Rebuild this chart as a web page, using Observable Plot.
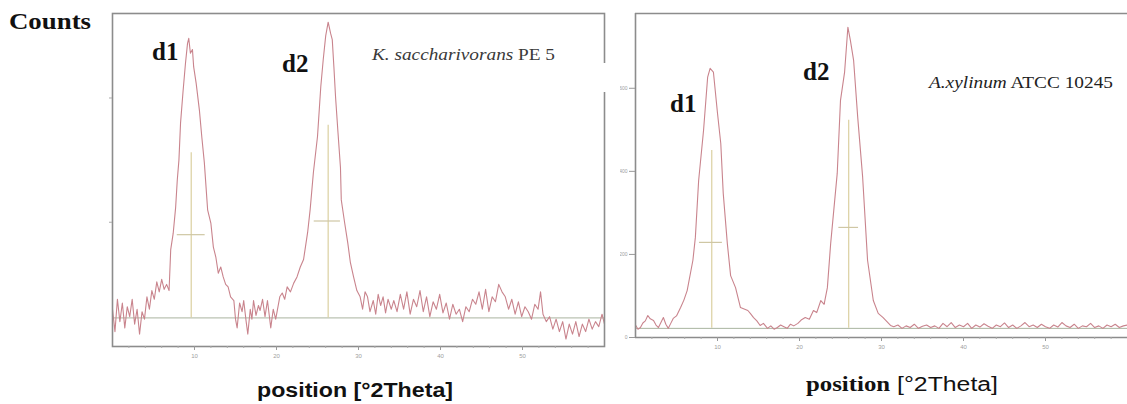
<!DOCTYPE html>
<html>
<head>
<meta charset="utf-8">
<script src="https://cdn.jsdelivr.net/npm/d3@7"></script>
<script src="https://cdn.jsdelivr.net/npm/@observablehq/plot@0.6"></script>
<style>
  html, body { margin: 0; padding: 0; background: #fff; }
  #wrap { position: relative; width: 1127px; height: 404px; overflow: hidden; }
  #left, #right, #overlay { position: absolute; top: 0; }
  #left { left: 0; }
  #right { left: 620px; }
  #overlay { left: 0; pointer-events: none; }
</style>
</head>
<body>
<div id="wrap">
  <div id="left"></div>
  <div id="right"></div>
  <svg id="overlay" width="1127" height="404"></svg>
</div>
<script>
// ---------- data: left panel (K. saccharivorans PE 5) ----------
const leftPos = [0.0,0.3,0.6,0.9,1.2,1.5,1.8,2.1,2.4,2.7,3.0,3.3,3.6,3.9,4.2,4.5,4.8,5.1,5.4,5.7,6.0,6.3,6.6,6.9,
  7.1,7.4,7.7,7.9,8.1,8.3,8.6,8.9,9.15,9.3,9.5,9.75,9.9,10.2,10.6,10.9,11.2,11.6,12.0,12.3,12.6,12.9,13.2,13.5,13.8,14.1,14.4,14.8,
  15.0,15.2,15.5,15.8,16.0,16.3,16.5,16.8,17.0,17.2,17.5,17.8,18.0,18.3,18.6,18.9,19.1,19.3,19.6,19.9,20.1,20.4,20.7,21.0,21.3,21.7,
  22.1,22.5,22.9,23.3,23.8,24.1,24.5,25.0,25.4,25.7,26.0,26.3,26.6,26.8,27.0,27.2,27.5,27.8,27.9,28.3,28.7,29.0,29.4,29.8,30.2,30.5,
  30.8,31.1,31.4,31.8,32.1,32.4,32.7,33.0,33.3,33.6,34.0,34.3,34.7,35.1,35.5,35.9,36.3,36.7,37.1,37.5,37.9,38.3,38.7,39.1,39.5,39.9,
  40.3,40.7,41.1,41.5,41.9,42.3,42.7,43.1,43.5,43.9,44.3,44.7,45.1,45.5,45.9,46.3,46.7,47.1,47.5,47.9,48.3,48.7,49.1,49.5,49.9,50.3,
  50.7,51.1,51.5,51.9,52.2,52.5,52.9,53.3,53.7,54.1,54.5,54.9,55.3,55.7,56.1,56.5,56.9,57.3,57.7,58.1,58.5,58.9,59.3,59.7,60.0];
const leftCounts = [30,12,38,20,35,15,32,24,38,18,30,10,28,22,40,30,45,38,52,44,54,46,50,45,
  78,91,112,134,150,180,205,228,244,248,236,239,225,212,190,168,148,110,99,80,72,59,64,56,50,48,40,37,
  22,15,35,28,37,20,10,30,22,37,25,33,29,38,24,37,26,15,30,22,29,40,43,38,48,44,
  51,56,64,70,92,110,140,169,209,231,250,261,252,247,225,201,172,144,118,100,83,68,56,45,40,30,
  44,40,28,37,26,42,33,40,27,38,30,37,28,42,30,44,26,38,32,45,28,40,24,36,30,42,
  27,35,22,34,26,30,20,32,28,38,34,44,30,46,28,40,36,50,44,40,30,38,26,36,24,32,
  28,22,34,30,44,26,20,24,14,22,12,20,6,18,10,20,8,18,12,22,14,20,16,26,18];

// ---------- data: right panel (A. xylinum ATCC 10245) ----------
const rightPos = [0.0,0.3,0.6,0.9,1.2,1.5,1.8,2.2,2.5,2.8,3.1,3.4,3.7,4.0,4.3,4.6,5.0,5.5,5.9,6.3,7.0,7.3,7.7,8.3,8.8,9.1,9.5,
  10.0,10.4,10.7,11.2,11.6,12.2,12.8,13.7,14.0,14.4,14.8,15.2,15.6,16.1,16.5,16.9,17.3,17.7,18.1,18.5,18.9,19.3,19.8,20.2,20.7,
  21.2,21.7,22.1,22.6,23.0,23.4,23.8,24.6,25.0,25.5,25.9,26.2,26.6,27.1,27.7,28.3,29.0,29.6,30.2,31.1,
  31.5,32.0,32.5,33.0,33.5,34.0,34.5,35.0,35.5,36.0,36.5,37.0,37.5,38.0,38.5,39.0,39.5,40.0,40.5,41.0,41.5,42.0,42.5,43.0,43.5,
  44.0,44.5,45.0,45.5,46.0,46.5,47.0,47.5,48.0,48.5,49.0,49.5,50.0,50.5,51.0,51.5,52.0,52.5,53.0,53.5,54.0,54.5,55.0,55.5,56.0,
  56.5,57.0,57.5,58.0,58.5,59.0,59.5,60.0];
const rightCounts = [30,20,24,35,40,53,45,41,30,24,36,48,32,22,34,46,52,72,90,113,186,241,378,499,627,648,639,
  540,467,347,226,149,120,72,65,58,48,40,29,34,22,28,20,24,30,26,22,32,28,34,42,48,
  44,65,60,89,80,120,226,395,571,639,747,716,667,530,386,186,89,58,48,29,
  26,30,22,28,24,32,22,27,30,24,28,22,34,26,36,24,30,26,34,22,30,25,33,27,22,
  30,26,35,24,30,22,28,36,26,30,24,32,26,22,30,25,36,28,24,32,22,28,26,34,24,
  28,22,30,26,32,24,28,30];

// ---------- peak markers (d1, d2) ----------
const peakNames = ["d1", "d2"];
const leftPeakPos = [9.6, 26.3];
const leftPeakTop = [156, 178];
const leftHalfY = [90, 101];
const leftHalfFrom = [7.9, 24.6];
const leftHalfTo = [11.3, 27.8];
const leftBaseline = 23;

const rightPeakPos = [9.3, 26.0];
const rightPeakTop = [450, 523];
const rightHalfY = [229, 265];
const rightHalfFrom = [7.8, 24.8];
const rightHalfTo = [10.6, 27.2];
const rightBaseline = 22;

// ---------- ticks ----------
const xMajorTicks = [10, 20, 30, 40, 50];
const xMinorTicks = [2,4,6,8,12,14,16,18,22,24,26,28,32,34,36,38,42,44,46,48,52,54,56,58];
const leftYTicks = [100, 200];
const rightYTicks = [0, 200, 400, 600];

const lineColor = "#c9848d";
const peakColor = "#dbd0a0";
const halfColor = "#cfc7a4";
const baseColor = "#a9b49f";
const frameColor = "#8c8c8c";

function peakTable(pos, top, hy, hf, ht, base) {
  return peakNames.map((n, i) => ({name: n, x: pos[i], top: top[i], base, hy: hy[i], hf: hf[i], ht: ht[i]}));
}
const leftData = leftPos.map((x, i) => ({x, y: leftCounts[i]}));
const rightData = rightPos.map((x, i) => ({x, y: rightCounts[i]}));
const leftPeaks = peakTable(leftPeakPos, leftPeakTop, leftHalfY, leftHalfFrom, leftHalfTo, leftBaseline);
const rightPeaks = peakTable(rightPeakPos, rightPeakTop, rightHalfY, rightHalfFrom, rightHalfTo, rightBaseline);

const tickStyle = {fontSize: 6, color: "#a0a0a0"};

const leftPlot = Plot.plot({
  width: 620, height: 404,
  marginLeft: 112, marginRight: 16, marginTop: 13, marginBottom: 58,
  style: {background: "transparent", fontFamily: "Liberation Sans"},
  x: {domain: [0, 60]},
  y: {domain: [0, 268]},
  marks: [
    Plot.ruleY([leftBaseline], {stroke: baseColor, strokeWidth: 1}),
    Plot.ruleX(leftPeaks, {x: "x", y1: "base", y2: "top", stroke: peakColor, strokeWidth: 1.2}),
    Plot.ruleY(leftPeaks, {y: "hy", x1: "hf", x2: "ht", stroke: halfColor, strokeWidth: 1.2}),
    Plot.line(leftData, {x: "x", y: "y", stroke: lineColor, strokeWidth: 1.1}),
    Plot.frame({stroke: frameColor, strokeWidth: 1.6}),
    Plot.axisX({ticks: xMajorTicks, tickSize: 4, tickPadding: 3, label: null, stroke: "#999", fill: "#a0a0a0", fontSize: 6}),
    Plot.axisX({ticks: xMinorTicks, tickSize: 2, text: null, label: null, stroke: "#aaa"}),
    Plot.axisY({ticks: leftYTicks, tickSize: 3, text: null, label: null, stroke: "#aaa"})
  ]
});
document.getElementById("left").append(leftPlot);

const rightPlot = Plot.plot({
  width: 507, height: 404,
  marginLeft: 15, marginRight: 0, marginTop: 13, marginBottom: 67,
  style: {background: "transparent", fontFamily: "Liberation Sans"},
  x: {domain: [0, 60]},
  y: {domain: [0, 780]},
  marks: [
    Plot.ruleY([rightBaseline], {stroke: baseColor, strokeWidth: 1}),
    Plot.ruleX(rightPeaks, {x: "x", y1: "base", y2: "top", stroke: peakColor, strokeWidth: 1.2}),
    Plot.ruleY(rightPeaks, {y: "hy", x1: "hf", x2: "ht", stroke: halfColor, strokeWidth: 1.2}),
    Plot.line(rightData, {x: "x", y: "y", stroke: lineColor, strokeWidth: 1.1}),
    Plot.ruleX([0], {stroke: frameColor, strokeWidth: 1.6}),
    Plot.ruleY([0, 780], {stroke: frameColor, strokeWidth: 1.6}),
    Plot.axisX({ticks: xMajorTicks, tickSize: 4, tickPadding: 3, label: null, stroke: "#999", fill: "#a0a0a0", fontSize: 6}),
    Plot.axisX({ticks: xMinorTicks, tickSize: 2, text: null, label: null, stroke: "#aaa"}),
    Plot.axisY({ticks: rightYTicks, tickSize: 6, tickPadding: 2, label: null, stroke: "#999", fill: "#a0a0a0", fontSize: 5})
  ]
});
document.getElementById("right").append(rightPlot);

// ---------- annotation text ----------
const ov = d3.select("#overlay");
// white patch over the left frame's right edge (as in the source image)
ov.append("rect").attr("x", 600).attr("y", 63).attr("width", 14).attr("height", 29).attr("fill", "#fff");

function label(x, y, parts, opts) {
  const t = ov.append("text").attr("x", x).attr("y", y)
    .attr("font-size", opts.size).attr("fill", opts.fill || "#111");
  if (opts.len) t.attr("textLength", opts.len).attr("lengthAdjust", "spacingAndGlyphs");
  parts.forEach(p => {
    t.append("tspan").text(p.t)
      .attr("font-family", p.family || "Liberation Serif")
      .attr("font-style", p.italic ? "italic" : "normal")
      .attr("font-weight", p.bold ? "bold" : "normal");
  });
}
label(9, 29, [{t: "Counts", bold: true}], {size: 24, len: 82});
label(152, 60, [{t: peakNames[0], bold: true}], {size: 25});
label(282, 72, [{t: peakNames[1], bold: true}], {size: 25});
label(670, 112, [{t: peakNames[0], bold: true}], {size: 25});
label(803, 80, [{t: peakNames[1], bold: true}], {size: 25});
label(372, 60, [{t: "K. saccharivorans", italic: true}, {t: " PE 5"}], {size: 16, len: 183, fill: "#3a3a3a"});
label(929, 88, [{t: "A.xylinum", italic: true}, {t: " ATCC 10245"}], {size: 17, len: 184, fill: "#222"});
label(257, 397, [{t: "position [°2Theta]", bold: true, family: "Liberation Sans"}], {size: 20, len: 196});
label(806, 391, [{t: "position", bold: true}, {t: " [°2Theta]", family: "Liberation Sans"}], {size: 20, len: 192});
</script>
</body>
</html>
